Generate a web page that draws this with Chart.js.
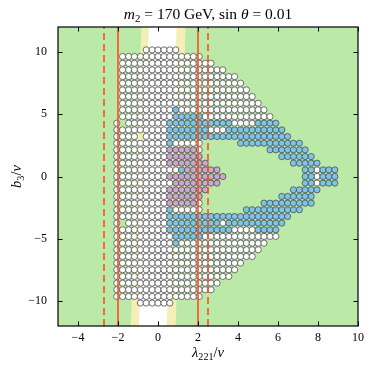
<!DOCTYPE html>
<html>
<head>
<meta charset="utf-8">
<script src="https://cdn.jsdelivr.net/npm/chart.js@4.4.1/dist/chart.umd.min.js"></script>
<style>
  html, body { margin: 0; padding: 0; background: #fff; }
  #wrap { width: 374px; height: 374px; }
</style>
</head>
<body>
<div id="wrap"><canvas id="chart" width="374" height="374"></canvas></div>
<script>
// axis ticks
const xTickValues = [-4, -2, 0, 2, 4, 6, 8, 10];
const yTickValues = [-10, -5, 0, 5, 10];

// scan grid
const colX = [-2.06, -1.77, -1.47, -1.18, -0.88, -0.59, -0.29, 0.00, 0.30, 0.59,
              0.89, 1.18, 1.47, 1.77, 2.06, 2.36, 2.65, 2.95, 3.24, 3.54,
              3.83, 4.13, 4.42, 4.71, 5.01, 5.30, 5.60, 5.89, 6.19, 6.48,
              6.77, 7.07, 7.36, 7.66, 7.95, 8.25, 8.54, 8.84];
const rowY = [10.16, 9.63, 9.09, 8.56, 8.02, 7.49, 6.95, 6.42, 5.88, 5.35,
              4.81, 4.28, 3.74, 3.21, 2.67, 2.14, 1.60, 1.07, 0.53, 0.00,
              -0.53, -1.07, -1.60, -2.14, -2.67, -3.21, -3.74, -4.28, -4.81, -5.35,
              -5.88, -6.42, -6.95, -7.49, -8.02, -8.56, -9.09, -9.63, -10.16];

// one string per row: o = allowed (white), b = blue, p = purple, . = no point
const rowMap = [
  '.....oooooo',
  '.oooooooooooooo',
  '.oooooooooooooooo',
  '.oooooooooooooooooo',
  '.oooooooooooooooooooo',
  '.ooooooooooooooooooooo',
  '.oooooooooooooooooooooo',
  '.ooooooooooooooooooooooo',
  '.oooooooooooooooooooooooo',
  '.ooooooooobooooooooooooooo',
  '.ooooooooobbbbboooooooooooo',
  'o.ooooooobbbbbbbbbbboooobbbb',
  'ooooooooobbbbbbbooobbbbbbbbbb',
  'oooo.oooobbbbbbbbbbbbbbbbbbbbb',
  'ooooooooobooooo......bbbbbbbbbbb',
  'ooooooooopppppo...........bbbbbbb',
  'ooooooooopppppp.............bbbbbb',
  'oooooooooppppppp..............bbbbb',
  'ooooooooooobpppppp..............bbobbb',
  'ooooooooopppppppppp.............bbobbbo',
  'oooooooooopppppppp..............bbobbb',
  'oooooooooppppppp..............bbbbb',
  'ooooooooopppppp.............bbbbbb',
  'ooooooooopppppo..........bbbbbbbbb',
  'ooooooooobooooo.......bbbbbbbbbb',
  'ooooooooobbbbbbbbbbbbbbbbbbbbb',
  'o.ooooooobbbbbbbbbobbbbbbbbbb',
  'ooooooooobbbbbbbbbbboooobbbb',
  'oooooooooobbbbbooooooooooooo',
  'oooooooooobooooooooooooooo',
  'ooooooooooooooooooooooooo',
  'oooooooooooooooooooooooo',
  'oooooooooooooooooooooo',
  'ooooooooooooooooooooo',
  'oooooooooooooooooooo',
  'oooooooooooooooooo',
  'ooooooooooooooooo',
  'ooooooooooooooo',
  '....oooooo'
];

// vertical limits
const solidLinesX = [-2, 2];
const dashedLinesX = [-2.7, 2.5];

// shaded bands (x of edge at y = -12 and y = 12)
const bandY = [-12, 12];
const yellowLeftX = [-1.36, -0.83];
const whiteLeftX = [-0.95, -0.46];
const whiteRightX = [0.43, 0.93];
const yellowRightX = [0.88, 1.38];

const GREEN = '#bae9a8';
const YELLOW = '#f4efb6';
const RED = '#ff4d1f';
const SERIF = '"Liberation Serif", "DejaVu Serif", serif';

const whitePts = [], bluePts = [], purplePts = [];
rowMap.forEach((row, k) => {
    for (let c = 0; c < row.length; c++) {
        const p = { x: colX[c], y: rowY[k] };
        if (row[c] === 'o') whitePts.push(p);
        else if (row[c] === 'b') bluePts.push(p);
        else if (row[c] === 'p') purplePts.push(p);
    }
});

const fmt = v => (v < 0 ? '\u2212' + Math.abs(v) : String(v));

function vline(xv, dash) {
    return {
        type: 'line',
        data: [{ x: xv, y: -12 }, { x: xv, y: 12 }],
        borderColor: RED,
        borderWidth: 1.6,
        borderDash: dash,
        pointRadius: 0,
        fill: false,
        order: 1
    };
}

function pointSet(data, color) {
    return {
        data: data,
        backgroundColor: color,
        borderColor: '#4d4d4d',
        borderWidth: 0.8,
        pointRadius: 3.1,
        order: 3
    };
}

// draw text runs (italic / subscript) centred at cx
function drawRuns(ctx, runs, cx, cy, size) {
    const fontOf = r => (r.it ? 'italic ' : '') + (r.sub ? size * 0.7 : size) + 'px ' + SERIF;
    let total = 0;
    runs.forEach(r => { ctx.font = fontOf(r); r.w = ctx.measureText(r.t).width; total += r.w; });
    let x = cx - total / 2;
    ctx.textAlign = 'left';
    ctx.textBaseline = 'alphabetic';
    runs.forEach(r => {
        ctx.font = fontOf(r);
        ctx.fillText(r.t, x, cy + (r.sub ? size * 0.22 : 0));
        x += r.w;
    });
}

const regionPlugin = {
    id: 'regions',
    beforeDatasetsDraw(chart) {
        const { ctx, chartArea: a, scales: { x, y } } = chart;
        ctx.save();
        ctx.beginPath();
        ctx.rect(a.left, a.top, a.right - a.left, a.bottom - a.top);
        ctx.clip();
        ctx.fillStyle = GREEN;
        ctx.fillRect(a.left, a.top, a.right - a.left, a.bottom - a.top);
        const band = (lx, rx, color) => {
            ctx.beginPath();
            ctx.moveTo(x.getPixelForValue(lx[0]), y.getPixelForValue(bandY[0]));
            ctx.lineTo(x.getPixelForValue(lx[1]), y.getPixelForValue(bandY[1]));
            ctx.lineTo(x.getPixelForValue(rx[1]), y.getPixelForValue(bandY[1]));
            ctx.lineTo(x.getPixelForValue(rx[0]), y.getPixelForValue(bandY[0]));
            ctx.closePath();
            ctx.fillStyle = color;
            ctx.fill();
        };
        band(yellowLeftX, yellowRightX, YELLOW);
        band(whiteLeftX, whiteRightX, '#ffffff');
        ctx.restore();
    }
};

const framePlugin = {
    id: 'frame',
    afterDatasetsDraw(chart) {
        const { ctx, chartArea: a, scales: { x, y } } = chart;
        const len = 4.5;
        ctx.save();
        ctx.strokeStyle = '#000';
        ctx.lineWidth = 1;
        ctx.beginPath();
        xTickValues.forEach(v => {
            const px = Math.round(x.getPixelForValue(v)) + 0.5;
            ctx.moveTo(px, a.bottom); ctx.lineTo(px, a.bottom - len);
            ctx.moveTo(px, a.top); ctx.lineTo(px, a.top + len);
        });
        yTickValues.forEach(v => {
            const py = Math.round(y.getPixelForValue(v)) + 0.5;
            ctx.moveTo(a.left, py); ctx.lineTo(a.left + len, py);
            ctx.moveTo(a.right, py); ctx.lineTo(a.right - len, py);
        });
        ctx.stroke();
        ctx.lineWidth = 1.2;
        ctx.strokeRect(a.left, a.top, a.right - a.left, a.bottom - a.top);
        ctx.restore();
    },
    afterDraw(chart) {
        const { ctx, chartArea: a } = chart;
        const mid = (a.left + a.right) / 2;
        ctx.save();
        ctx.fillStyle = '#000';
        drawRuns(ctx, [
            { t: 'm', it: true }, { t: '2', sub: true },
            { t: ' = 170 GeV, sin ' }, { t: 'θ', it: true }, { t: ' = 0.01' }
        ], mid, 19, 15.5);
        drawRuns(ctx, [
            { t: 'λ', it: true }, { t: '221', sub: true }, { t: '/' }, { t: 'v', it: true }
        ], mid, 357, 14.5);
        ctx.translate(21, (a.top + a.bottom) / 2);
        ctx.rotate(-Math.PI / 2);
        drawRuns(ctx, [
            { t: 'b', it: true }, { t: '3', sub: true }, { t: '/' }, { t: 'v', it: true }
        ], 0, 0, 14.5);
        ctx.restore();
    }
};

new Chart(document.getElementById('chart'), {
    type: 'scatter',
    data: {
        datasets: [
            vline(solidLinesX[0], []),
            vline(solidLinesX[1], []),
            vline(dashedLinesX[0], [7, 4]),
            vline(dashedLinesX[1], [7, 4]),
            pointSet(purplePts, '#c9a8c9'),
            pointSet(bluePts, '#7cc5e4'),
            Object.assign(pointSet(whitePts, '#ffffff'), { order: 4 })
        ]
    },
    options: {
        responsive: false,
        animation: false,
        events: [],
        layout: { padding: { top: 27, right: 16, left: 0, bottom: 0 } },
        plugins: { legend: { display: false }, tooltip: { enabled: false }, title: { display: false } },
        scales: {
            x: {
                type: 'linear', min: -5, max: 10,
                afterBuildTicks: s => { s.ticks = xTickValues.map(v => ({ value: v })); },
                afterFit: s => { s.height = 48; },
                grid: { display: false },
                border: { display: false },
                ticks: { color: '#000', padding: -3, font: { family: SERIF, size: 12 }, callback: v => fmt(v), maxRotation: 0 }
            },
            y: {
                type: 'linear', min: -12, max: 12,
                afterBuildTicks: s => { s.ticks = yTickValues.map(v => ({ value: v })); },
                afterFit: s => { s.width = 58; },
                grid: { display: false },
                border: { display: false },
                ticks: { color: '#000', padding: 3, font: { family: SERIF, size: 12 }, callback: v => fmt(v) }
            }
        }
    },
    plugins: [regionPlugin, framePlugin]
});
</script>
</body>
</html>
